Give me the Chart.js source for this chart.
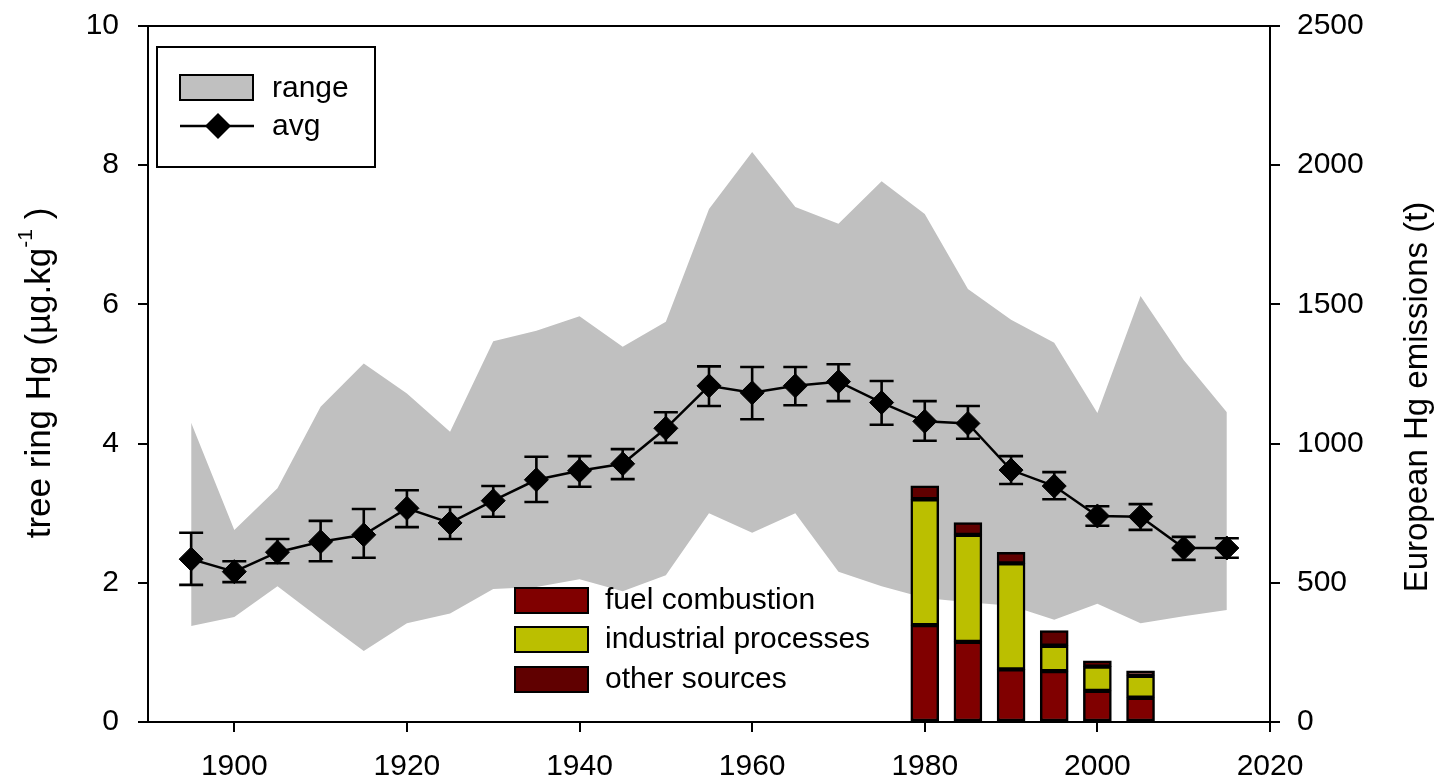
<!DOCTYPE html>
<html><head><meta charset="utf-8">
<script src="https://cdn.jsdelivr.net/npm/chart.js@4/dist/chart.umd.min.js"></script>
<style>html,body{margin:0;padding:0;background:#fff;}canvas{display:block;}</style>
</head><body>
<canvas id="c" width="1441" height="781"></canvas>
<script>
const years = [1895,1900,1905,1910,1915,1920,1925,1930,1935,1940,1945,1950,1955,1960,1965,1970,1975,1980,1985,1990,1995,2000,2005,2010,2015];
const avg = [2.34,2.16,2.44,2.59,2.69,3.07,2.86,3.18,3.48,3.61,3.71,4.22,4.83,4.73,4.83,4.89,4.59,4.32,4.29,3.62,3.39,2.96,2.95,2.50,2.50];
const errHigh = [2.72,2.31,2.63,2.89,3.06,3.33,3.09,3.39,3.81,3.82,3.92,4.45,5.11,5.10,5.10,5.14,4.90,4.61,4.54,3.82,3.59,3.10,3.13,2.66,2.64];
const errLow = [1.97,2.01,2.28,2.31,2.36,2.80,2.63,2.95,3.16,3.38,3.49,4.01,4.54,4.35,4.55,4.61,4.27,4.04,4.07,3.42,3.20,2.82,2.76,2.33,2.36];
const rangeHigh = [4.30,2.76,3.36,4.53,5.15,4.72,4.17,5.47,5.62,5.83,5.39,5.75,7.37,8.19,7.40,7.16,7.77,7.30,6.22,5.78,5.45,4.44,6.12,5.20,4.45];
const rangeLow = [1.38,1.51,1.95,1.48,1.02,1.42,1.56,1.91,1.94,2.05,1.88,2.11,3.00,2.72,3.00,2.16,1.95,1.78,1.72,1.67,1.47,1.70,1.42,1.52,1.61];
const emYears = [1980,1985,1990,1995,2000,2005];
const fuelCombustion = [348,288,189,183,112,87];
const industrialProcesses = [452,384,381,91,87,79];
const otherSources = [48,44,39,54,21,18];
const xTicks = [1900,1920,1940,1960,1980,2000,2020];
const yTicks = [0,2,4,6,8,10];
const y2Ticks = [0,500,1000,1500,2000,2500];

const FONT = '"Liberation Sans", Arial, sans-serif';
const FS = 30;
const pts = (xs, ys) => xs.map((x, i) => ({x: x, y: ys[i]}));

const errorBars = {
  id: 'errorBars',
  beforeDatasetDraw(chart, args) {
    if (args.index !== 5) return;
    const ctx = chart.ctx, xs = chart.scales.x, ys = chart.scales.y;
    ctx.save();
    ctx.strokeStyle = '#000'; ctx.lineWidth = 2.6;
    years.forEach((yr, i) => {
      const px = xs.getPixelForValue(yr);
      const t = ys.getPixelForValue(errHigh[i]);
      const b = ys.getPixelForValue(errLow[i]);
      ctx.beginPath();
      ctx.moveTo(px, t); ctx.lineTo(px, b);
      ctx.moveTo(px - 12, t); ctx.lineTo(px + 12, t);
      ctx.moveTo(px - 12, b); ctx.lineTo(px + 12, b);
      ctx.stroke();
    });
    ctx.restore();
  }
};

const decorations = {
  id: 'decorations',
  afterDraw(chart) {
    const ctx = chart.ctx;
    ctx.save();
    ctx.fillStyle = '#000';
    ctx.font = FS + 'px ' + FONT;
    ctx.textBaseline = 'middle';
    // legend 1
    ctx.lineWidth = 2; ctx.strokeStyle = '#000';
    ctx.fillStyle = '#fff';
    ctx.fillRect(157, 47, 218, 120);
    ctx.strokeRect(157, 47, 218, 120);
    ctx.fillStyle = '#c0c0c0';
    ctx.fillRect(180, 75, 73, 25);
    ctx.strokeRect(180, 75, 73, 25);
    ctx.lineWidth = 2.5;
    ctx.beginPath(); ctx.moveTo(180, 126); ctx.lineTo(254, 126); ctx.stroke();
    ctx.lineWidth = 2;
    ctx.fillStyle = '#000';
    ctx.beginPath();
    ctx.moveTo(218, 113); ctx.lineTo(231, 126); ctx.lineTo(218, 139); ctx.lineTo(205, 126); ctx.closePath();
    ctx.fill();
    ctx.textAlign = 'left';
    ctx.fillText('range', 272, 89);
    ctx.fillText('avg', 272, 127);
    // legend 2
    const items = [['fuel combustion', '#800000', 600], ['industrial processes', '#bbbf00', 639], ['other sources', '#600000', 679]];
    items.forEach(([label, col, cy]) => {
      ctx.fillStyle = col;
      ctx.fillRect(515, cy - 12, 73, 25);
      ctx.strokeRect(515, cy - 12, 73, 25);
      ctx.fillStyle = '#000';
      ctx.fillText(label, 605, cy + 1);
    });
    // left axis title
    ctx.save();
    ctx.translate(40, 373);
    ctx.rotate(-Math.PI / 2);
    const a = 'tree ring Hg (\u00b5g.kg', sup = '-1', c = ' )';
    const TF = 35, SF = 21;
    ctx.font = TF + 'px ' + FONT;
    const wa = ctx.measureText(a).width, wc = ctx.measureText(c).width;
    ctx.font = SF + 'px ' + FONT;
    const ws = ctx.measureText(sup).width;
    const total = wa + ws + wc;
    let x0 = -total / 2;
    ctx.textAlign = 'left';
    ctx.font = TF + 'px ' + FONT;
    ctx.fillText(a, x0, 0);
    ctx.font = SF + 'px ' + FONT;
    ctx.fillText(sup, x0 + wa, -14);
    ctx.font = TF + 'px ' + FONT;
    ctx.fillText(c, x0 + wa + ws, 0);
    ctx.restore();
    // right axis title
    ctx.save();
    ctx.translate(1418, 397);
    ctx.rotate(-Math.PI / 2);
    ctx.textAlign = 'center';
    ctx.font = '33px ' + FONT;
    ctx.fillText('European Hg emissions (t)', 0, 0);
    ctx.restore();
    ctx.restore();
  }
};

const zeroPad = s => { s.paddingTop = 0; s.paddingBottom = 0; s.paddingLeft = 0; s.paddingRight = 0; };

const axisCommon = (ticksArr, pad, extra) => Object.assign({
  afterBuildTicks: s => { s.ticks = ticksArr.map(v => ({value: v})); },
  grid: {drawOnChartArea: false, drawTicks: true, tickLength: 10, color: '#000', lineWidth: 2, offset: false},
  border: {display: true, color: '#000', width: 2},
  ticks: {color: '#000', font: {family: FONT, size: FS}, padding: pad, autoSkip: false, maxRotation: 0, callback: v => String(v)}
}, extra);

const barCommon = {type: 'bar', xAxisID: 'x', yAxisID: 'y2', stack: 'em', barThickness: 28,
  borderColor: '#000', borderWidth: 2.5, borderSkipped: false, order: 2};

new Chart(document.getElementById('c'), {
  type: 'line',
  data: {
    datasets: [
      {label: 'range', data: pts(years, rangeHigh), yAxisID: 'y', fill: '+1', backgroundColor: '#c0c0c0',
        borderWidth: 0, borderColor: 'rgba(0,0,0,0)', pointRadius: 0, order: 3, tension: 0},
      {label: 'range low', data: pts(years, rangeLow), yAxisID: 'y', fill: false,
        borderWidth: 0, borderColor: 'rgba(0,0,0,0)', pointRadius: 0, order: 3, tension: 0},
      Object.assign({label: 'fuel combustion', data: pts(emYears, fuelCombustion), backgroundColor: '#800000'}, barCommon),
      Object.assign({label: 'industrial processes', data: pts(emYears, industrialProcesses), backgroundColor: '#bbbf00'}, barCommon),
      Object.assign({label: 'other sources', data: pts(emYears, otherSources), backgroundColor: '#600000'}, barCommon),
      {label: 'avg', data: pts(years, avg), yAxisID: 'y', borderColor: '#000', borderWidth: 2.5,
        pointStyle: 'rectRot', pointRadius: 12, pointBackgroundColor: '#000', pointBorderColor: '#000',
        pointBorderWidth: 1, fill: false, order: 1, tension: 0}
    ]
  },
  options: {
    responsive: false, animation: false, devicePixelRatio: 1,
    events: [],
    layout: {padding: {top: 26, left: 0, right: 0, bottom: 0}},
    plugins: {legend: {display: false}, tooltip: {enabled: false}},
    scales: {
      x: axisCommon(xTicks, 17, {type: 'linear', position: 'bottom', min: 1890, max: 2020, offset: false,
        afterFit: s => { s.height = 59; zeroPad(s); }}),
      xTop: {type: 'linear', position: 'top', min: 1890, max: 2020, offset: false,
        grid: {display: false}, ticks: {display: false},
        border: {display: true, color: '#000', width: 2}, afterFit: s => { s.height = 0; zeroPad(s); }},
      y: axisCommon(yTicks, 19, {type: 'linear', position: 'left', min: 0, max: 10, stacked: false,
        afterFit: s => { s.width = 148; zeroPad(s); }}),
      y2: axisCommon(y2Ticks, 17, {type: 'linear', position: 'right', min: 0, max: 2500, stacked: true,
        afterFit: s => { s.width = 171; zeroPad(s); }})
    }
  },
  plugins: [errorBars, decorations]
});
</script>
</body></html>
